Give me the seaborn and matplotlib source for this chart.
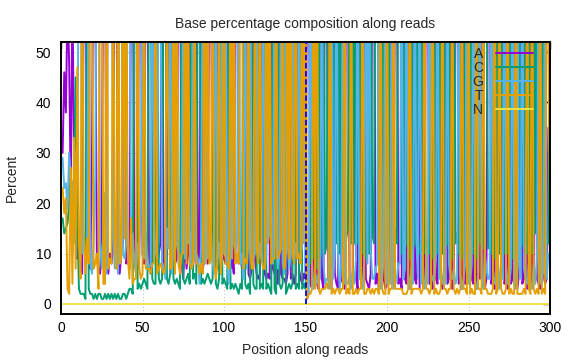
import matplotlib
matplotlib.use("Agg")
import matplotlib.pyplot as plt
import pandas as pd
import seaborn as sns

positions = list(range(1, 301))

pct_A = [30, 46, 38, 60, 48, 22, 62, 30, 18, 9,
         10, 8, 6, 70, 85, 12, 9, 7, 30, 80,
         65, 9, 7, 6, 14, 80, 72, 8, 6, 10,
         8, 12, 78, 82, 9, 6, 10, 12, 76, 8,
         9, 7, 70, 80, 12, 9, 7, 80, 72, 10,
         8, 75, 82, 10, 6, 9, 70, 12, 7, 10,
         12, 80, 9, 6, 10, 60, 12, 7, 11, 8,
         9, 78, 83, 8, 5, 13, 7, 10, 74, 8,
         7, 12, 78, 8, 10, 76, 7, 9, 12, 8,
         75, 72, 9, 8, 11, 80, 7, 6, 10, 9,
         8, 80, 11, 7, 9, 6, 78, 74, 8, 10,
         7, 8, 9, 82, 6, 5, 7, 80, 9, 6,
         5, 6, 78, 10, 6, 5, 6, 5, 78, 7,
         6, 5, 4, 76, 6, 5, 5, 4, 6, 80,
         5, 6, 4, 6, 78, 7, 5, 4, 6, 5,
         80, 82, 4, 3, 5, 78, 4, 3, 80, 5,
         3, 82, 78, 5, 4, 3, 80, 6, 4, 3,
         84, 5, 4, 3, 80, 78, 5, 4, 6, 82,
         5, 3, 80, 4, 6, 82, 5, 4, 3, 6,
         78, 80, 4, 6, 3, 4, 80, 5, 3, 4,
         6, 82, 5, 4, 78, 80, 4, 5, 3, 82,
         5, 4, 80, 3, 6, 82, 5, 4, 78, 3,
         82, 5, 4, 80, 80, 4, 6, 3, 82, 5,
         4, 80, 5, 3, 6, 82, 4, 5, 80, 3,
         6, 82, 78, 4, 5, 3, 80, 4, 6, 5,
         80, 5, 4, 82, 3, 6, 5, 80, 4, 3,
         5, 82, 80, 4, 6, 3, 82, 5, 4, 6,
         80, 4, 5, 3, 82, 4, 5, 80, 4, 3,
         6, 82, 4, 5, 80, 3, 5, 82, 4, 5,
         80, 5, 4, 3, 82, 6, 4, 5, 35, 8]

pct_C = [17, 14, 15, 16, 20, 26, 10, 25, 45, 18,
         3, 2, 2, 2, 1, 75, 3, 2, 2, 1,
         2, 1, 2, 2, 1, 1, 2, 1, 2, 1,
         2, 1, 2, 1, 2, 1, 1, 2, 2, 1,
         2, 3, 3, 2, 75, 80, 3, 4, 3, 4,
         5, 4, 3, 76, 80, 5, 4, 4, 78, 5,
         4, 5, 78, 82, 5, 4, 6, 80, 5, 4,
         5, 4, 3, 72, 5, 4, 5, 6, 4, 78,
         5, 6, 4, 75, 80, 4, 5, 4, 5, 6,
         5, 4, 5, 78, 4, 3, 5, 80, 4, 5,
         4, 3, 78, 3, 4, 3, 4, 3, 2, 4,
         3, 80, 4, 3, 4, 2, 78, 4, 3, 3,
         78, 3, 4, 3, 80, 3, 4, 3, 2, 76,
         3, 2, 80, 4, 3, 4, 82, 2, 3, 4,
         3, 4, 80, 3, 4, 3, 78, 3, 4, 3,
         12, 10, 8, 84, 9, 10, 7, 85, 9, 11,
         85, 10, 12, 86, 9, 10, 11, 80, 12, 84,
         10, 83, 11, 10, 13, 15, 86, 12, 84, 12,
         82, 12, 12, 84, 10, 11, 9, 85, 10, 80,
         14, 12, 86, 83, 10, 9, 12, 84, 10, 11,
         84, 11, 10, 13, 15, 12, 85, 84, 10, 11,
         86, 12, 11, 9, 85, 11, 12, 80, 14, 10,
         12, 84, 10, 12, 13, 10, 85, 9, 12, 83,
         10, 13, 84, 10, 85, 11, 12, 84, 12, 9,
         84, 12, 14, 10, 86, 9, 12, 85, 10, 12,
         14, 84, 10, 12, 9, 85, 12, 13, 11, 84,
         85, 11, 13, 10, 84, 9, 12, 84, 10, 82,
         13, 10, 84, 10, 12, 86, 9, 14, 12, 10,
         84, 11, 12, 85, 13, 10, 84, 12, 10, 84,
         14, 83, 12, 10, 12, 84, 10, 13, 12, 55]

pct_G = [29, 23, 24, 19, 30, 25, 24, 12, 30, 26,
         75, 85, 10, 14, 8, 10, 80, 8, 6, 12,
         25, 80, 88, 12, 7, 15, 22, 6, 85, 80,
         82, 14, 7, 10, 6, 85, 80, 10, 9, 12,
         80, 85, 10, 14, 8, 6, 12, 9, 20, 80,
         9, 14, 8, 7, 8, 78, 18, 10, 9, 78,
         76, 8, 7, 5, 15, 11, 75, 6, 10, 82,
         12, 10, 8, 10, 80, 9, 80, 12, 14, 7,
         80, 9, 10, 9, 4, 12, 82, 8, 75, 9,
         12, 15, 8, 6, 80, 9, 12, 8, 76, 10,
         80, 9, 4, 10, 78, 12, 10, 13, 82, 8,
         10, 5, 78, 7, 12, 82, 8, 9, 10, 80,
         9, 12, 9, 80, 7, 10, 78, 14, 12, 8,
         82, 12, 7, 10, 80, 8, 6, 84, 12, 7,
         10, 80, 8, 12, 9, 80, 9, 12, 78, 10,
         1, 2, 85, 8, 3, 6, 4, 6, 5, 80,
         8, 4, 5, 5, 3, 84, 5, 11, 81, 9,
         3, 8, 82, 4, 4, 4, 6, 3, 7, 4,
         9, 82, 5, 8, 3, 4, 84, 8, 83, 11,
         5, 5, 7, 8, 84, 3, 5, 9, 85, 4,
         8, 4, 82, 3, 4, 5, 8, 8, 84, 5,
         7, 82, 6, 3, 7, 4, 80, 13, 5, 84,
         4, 8, 3, 5, 4, 84, 6, 5, 4, 9,
         84, 5, 8, 4, 6, 4, 82, 8, 5, 5,
         7, 4, 5, 84, 6, 3, 5, 8, 82, 4,
         4, 8, 84, 4, 3, 6, 80, 5, 3, 10,
         7, 5, 5, 84, 7, 4, 4, 8, 3, 9,
         5, 84, 8, 4, 4, 7, 84, 4, 3, 85,
         8, 5, 82, 7, 5, 4, 8, 4, 3, 8,
         4, 9, 82, 4, 4, 7, 84, 5, 10, 10]

pct_T = [23, 18, 21, 3, 2, 27, 4, 33, 7, 47,
         12, 5, 82, 14, 6, 13, 8, 83, 62, 7,
         8, 10, 3, 80, 78, 4, 4, 85, 7, 9,
         8, 73, 13, 7, 83, 8, 9, 76, 13, 79,
         9, 5, 17, 4, 5, 5, 78, 7, 5, 6,
         78, 7, 7, 7, 6, 8, 8, 74, 6, 7,
         8, 7, 6, 7, 70, 25, 7, 7, 74, 6,
         74, 8, 6, 10, 10, 74, 8, 72, 8, 7,
         8, 73, 8, 8, 6, 8, 6, 79, 8, 77,
         8, 9, 78, 8, 5, 8, 76, 6, 10, 76,
         8, 8, 7, 80, 9, 79, 8, 10, 8, 78,
         80, 7, 9, 8, 78, 11, 7, 7, 78, 11,
         8, 79, 9, 7, 7, 82, 12, 78, 8, 9,
         9, 81, 9, 10, 11, 83, 7, 10, 79, 9,
         82, 10, 8, 79, 9, 10, 8, 81, 12, 82,
         1, 2, 2, 3, 82, 3, 84, 3, 2, 3,
         3, 3, 4, 3, 83, 2, 3, 2, 3, 3,
         2, 3, 3, 82, 2, 3, 2, 80, 2, 2,
         3, 2, 3, 3, 80, 2, 2, 3, 3, 2,
         3, 2, 3, 3, 2, 83, 3, 2, 2, 82,
         2, 3, 3, 80, 3, 3, 3, 3, 3, 2,
         2, 2, 3, 85, 2, 3, 3, 3, 3, 3,
         2, 3, 83, 3, 3, 2, 3, 83, 2, 3,
         2, 2, 3, 83, 3, 3, 2, 3, 3, 83,
         3, 2, 3, 2, 3, 85, 3, 3, 2, 79,
         2, 3, 2, 2, 85, 3, 3, 2, 82, 3,
         3, 2, 2, 2, 3, 84, 2, 3, 83, 3,
         2, 2, 3, 83, 2, 3, 2, 2, 81, 2,
         2, 2, 2, 3, 2, 83, 3, 2, 83, 3,
         2, 3, 2, 83, 2, 3, 2, 77, 52, 17]

pct_N = [0] * 300

bases = ["A", "C", "G", "T", "N"]
base_colors = ["#9400D3", "#009E73", "#56B4E9", "#E69F00", "#F0E442"]
read_boundary = 150
x_ticks = [0, 50, 100, 150, 200, 250, 300]
y_ticks = [0, 10, 20, 30, 40, 50]

sns.set_style("white")
plt.rcParams["font.family"] = ["Liberation Sans", "DejaVu Sans"]

wide = pd.DataFrame({"pos": positions, "A": pct_A, "C": pct_C,
                     "G": pct_G, "T": pct_T, "N": pct_N})
long = wide.melt(id_vars="pos", var_name="base", value_name="pct")

fig = plt.figure(figsize=(5.76, 3.6), dpi=100)
ax = fig.add_axes([61 / 576, 1 - 314 / 360, (550 - 61) / 576, (314 - 42) / 360])

sns.lineplot(data=long, x="pos", y="pct", hue="base", hue_order=bases,
             palette=base_colors, linewidth=1.4, estimator=None, sort=False,
             ax=ax)

ax.set_xlim(0, 300)
ax.set_ylim(-2, 52)
ax.vlines(read_boundary, 0, 52, colors="#0000FF", linestyles=(0, (3, 1.5)),
          linewidth=1.3, zorder=5)

ax.set_xticks(x_ticks)
ax.set_yticks(y_ticks)
ax.grid(True, color="#a0a0a0", linestyle=(0, (1, 3)), linewidth=0.6)
ax.set_axisbelow(True)
ax.tick_params(direction="in", top=True, right=True, length=5, width=1,
               labelsize=10, colors="black")
ax.tick_params(axis="y", pad=7)
ax.tick_params(axis="x", pad=5)
for s in ax.spines.values():
    s.set_linewidth(1.4)
    s.set_color("black")

ax.set_title("Base percentage composition along reads", fontsize=10, pad=10)
ax.set_xlabel("Position along reads", fontsize=10, labelpad=6)
ax.set_ylabel("Percent", fontsize=10, labelpad=12)

handles, labels = ax.get_legend_handles_labels()
ax.legend(handles, labels, loc="upper right",
          bbox_to_anchor=((533 - 61) / 489, (314 - 47) / 272),
          frameon=False, markerfirst=False, handlelength=2.7,
          handletextpad=0.9, labelspacing=0.0, fontsize=10,
          borderaxespad=0, borderpad=0)

fig.savefig("out.png", dpi=100)
